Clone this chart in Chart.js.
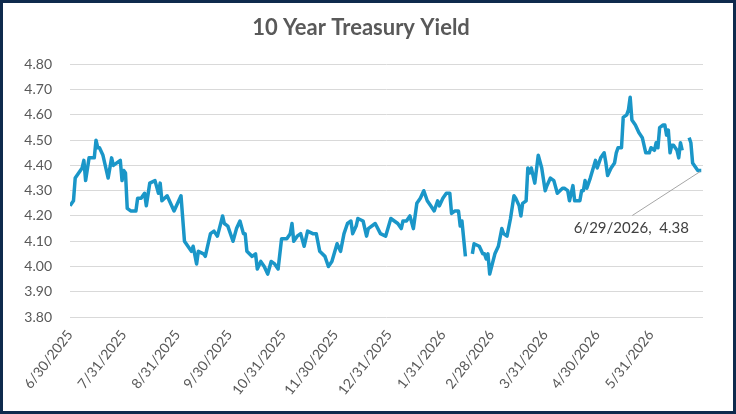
<!DOCTYPE html>
<html>
<head>
<meta charset="utf-8">
<script src="https://cdn.jsdelivr.net/npm/chart.js@4.4.1/dist/chart.umd.min.js"></script>
<style>
    html, body { margin: 0; padding: 0; background: #ffffff; }
    #frame {
        width: 736px;
        height: 414px;
        box-sizing: border-box;
        border: 3px solid #0e2a4d;
        background: #ffffff;
    }
    #chart { display: block; }
</style>
</head>
<body>
<div id="frame"><canvas id="chart" width="730" height="408"></canvas></div>
<script>
// days since 6/30/2025, and the 10y yield on that day (null = missing, shown as a gap)
const dayOffsets = [
    0, 2, 3, 5, 7, 8, 9, 11, 14, 15, 16, 17, 19, 22, 24, 25, 27, 29, 30, 31,
    32, 33, 35, 38, 39, 41, 43, 44, 46, 49, 51, 52, 53, 56, 60, 64, 66, 67, 70, 71,
    73, 74, 77, 78, 81, 83, 85, 88, 89, 91, 94, 96, 98, 100, 101, 102, 105, 107, 108, 110,
    112, 114, 116, 118, 120, 122, 125, 127, 128, 129, 131, 133, 135, 137, 140, 142, 144, 147, 149, 151,
    154, 156, 158, 160, 162, 163, 165, 166, 169, 171, 172, 176, 179, 182, 185, 187, 189, 191, 192, 194,
    196, 198, 200, 202, 204, 206, 208, 210, 212, 213, 215, 217, 219, 220, 222, 224, 225, 226, 228, 230,
    232, 233, 236, 238, 239, 240, 241, 242, 245, 247, 249, 250, 252, 254, 256, 257, 259, 260, 261, 263,
    264, 265, 266, 268, 270, 272, 274, 275, 277, 279, 281, 284, 285, 287, 288, 290, 291, 294, 295, 296,
    297, 298, 300, 303, 304, 306, 308, 309, 310, 312, 314, 315, 316, 318, 319, 321, 322, 323, 324, 326,
    328, 330, 332, 334, 335, 337, 338, 339, 340, 342, 343, 344, 345, 346, 347, 348, 350, 351, 352, 353,
    355, 357, 358, 359, 361, 362, 364
];
const yields = [
    4.24, 4.26, 4.35, 4.37, 4.39, 4.42, 4.34, 4.43, 4.43, 4.50, 4.47, 4.47, 4.44, 4.35, 4.43, 4.40, 4.41, 4.42, 4.34, 4.38,
    4.37, 4.23, 4.22, 4.22, 4.27, 4.27, 4.29, 4.24, 4.33, 4.34, 4.29, 4.33, 4.26, 4.28, 4.22, 4.28, 4.10, 4.09, 4.06, 4.08,
    4.01, 4.06, 4.05, 4.04, 4.13, 4.14, 4.12, 4.20, 4.17, 4.16, 4.10, 4.15, 4.18, 4.13, 4.13, 4.06, 4.04, 4.05, 3.99, 4.02,
    4.00, 3.97, 4.02, 4.01, 3.99, 4.11, 4.11, 4.13, 4.17, 4.10, 4.12, 4.13, 4.08, 4.14, 4.13, 4.13, 4.06, 4.04, 4.00, 4.02,
    4.09, 4.06, 4.13, 4.17, 4.18, 4.13, 4.16, 4.19, 4.18, 4.12, 4.15, 4.17, 4.13, 4.12, 4.19, 4.18, 4.17, 4.15, 4.18, 4.18,
    4.20, 4.15, 4.25, 4.27, 4.30, 4.26, 4.24, 4.22, 4.26, 4.24, 4.27, 4.29, 4.29, 4.21, 4.22, 4.22, 4.16, 4.18, 4.04, null,
    4.05, 4.09, 4.08, 4.05, 4.05, 4.03, 4.05, 3.97, 4.05, 4.08, 4.15, 4.13, 4.12, 4.19, 4.28, 4.27, 4.24, 4.20, 4.25, 4.26,
    4.39, 4.37, 4.39, 4.33, 4.44, 4.39, 4.30, 4.32, 4.35, 4.34, 4.29, 4.31, 4.31, 4.30, 4.26, 4.32, 4.26, 4.26, 4.30, 4.30,
    4.34, 4.31, 4.35, 4.42, 4.39, 4.43, 4.45, 4.41, 4.36, 4.39, 4.41, 4.45, 4.47, 4.47, 4.59, 4.60, 4.62, 4.67, 4.58, 4.56,
    4.53, 4.51, 4.45, 4.45, 4.47, 4.46, 4.49, 4.47, 4.55, 4.56, 4.56, 4.52, 4.54, 4.45, 4.48, 4.48, 4.46, 4.43, 4.49, 4.46,
    null, 4.51, 4.49, 4.41, 4.39, 4.38, 4.38
];

// x-axis tick labels (month ends) and their day offsets
const monthEndLabels = ['6/30/2025', '7/31/2025', '8/31/2025', '9/30/2025', '10/31/2025', '11/30/2025',
    '12/31/2025', '1/31/2026', '2/28/2026', '3/31/2026', '4/30/2026', '5/31/2026'];
const monthEndDays = [0, 31, 62, 92, 123, 153, 184, 215, 243, 274, 304, 335];

const lastLabel = '6/29/2026,  4.38';

const textGray = '#595959';
const lineBlue = '#1a96c8';
const fontFamily = 'Lato, "Open Sans", sans-serif';

// leader line + label for the last point
const lastPointNote = {
    id: 'lastPointNote',
    afterDatasetsDraw(chart) {
        const meta = chart.getDatasetMeta(0);
        const pt = meta.data[meta.data.length - 1];
        const ctx = chart.ctx;
        ctx.save();
        ctx.strokeStyle = '#a6a6a6';
        ctx.lineWidth = 1;
        ctx.beginPath();
        ctx.moveTo(pt.x - 1, pt.y + 1);
        ctx.lineTo(pt.x - 69, pt.y + 45);
        ctx.stroke();
        ctx.fillStyle = '#404040';
        ctx.font = '15px ' + fontFamily;
        ctx.textAlign = 'center';
        ctx.textBaseline = 'middle';
        ctx.fillText(lastLabel, pt.x - 70, pt.y + 58);
        ctx.restore();
    }
};

const points = dayOffsets.map((d, i) => ({ x: d, y: yields[i] }));

new Chart(document.getElementById('chart'), {
    type: 'line',
    data: {
        datasets: [{
            label: '10 Year Treasury Yield',
            data: points,
            borderColor: lineBlue,
            borderWidth: 3.5,
            pointRadius: 0,
            tension: 0,
            spanGaps: false,
            borderJoinStyle: 'round'
        }]
    },
    options: {
        responsive: false,
        animation: false,
        layout: { padding: { left: 16, right: 30, top: 10, bottom: 0 } },
        plugins: {
            legend: { display: false },
            tooltip: { enabled: false },
            title: {
                display: true,
                text: '10 Year Treasury Yield',
                color: textGray,
                font: { family: fontFamily, size: 22, weight: 'bold' },
                padding: { top: 2, bottom: 23 }
            }
        },
        scales: {
            x: {
                type: 'linear',
                min: 0,
                max: 365,
                afterBuildTicks: (scale) => {
                    scale.ticks = monthEndDays.map(v => ({ value: v }));
                },
                afterFit: (scale) => { scale.height = 94; },
                ticks: {
                    autoSkip: false,
                    minRotation: 52,
                    maxRotation: 52,
                    padding: 2,
                    color: textGray,
                    font: { family: fontFamily, size: 14 },
                    callback: (value, index) => monthEndLabels[index]
                },
                grid: { display: false },
                border: { display: false }
            },
            y: {
                min: 3.8,
                max: 4.8,
                afterFit: (scale) => { scale.width = 51; },
                ticks: {
                    stepSize: 0.1,
                    padding: 18,
                    color: textGray,
                    font: { family: fontFamily, size: 14 },
                    callback: (value) => value.toFixed(2)
                },
                grid: { color: '#d9d9d9', lineWidth: 1, drawTicks: false },
                border: { display: false }
            }
        }
    },
    plugins: [lastPointNote]
});
</script>
</body>
</html>
